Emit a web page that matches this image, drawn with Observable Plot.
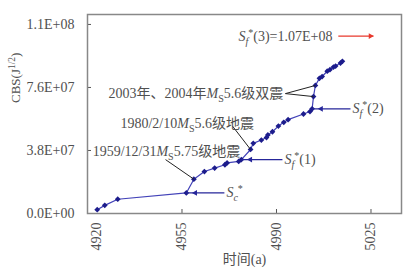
<!DOCTYPE html>
<html><head><meta charset="utf-8">
<script src="https://cdn.jsdelivr.net/npm/d3@7"></script>
<script src="https://cdn.jsdelivr.net/npm/@observablehq/plot@0.6"></script>
<style>
body{margin:0;background:#fff}
svg, svg text{font-family:"Liberation Serif","Noto Sans CJK SC",serif !important;}
</style>
</head><body><div id="chart"></div>
<script>
// ---- data ----
const years = [4923.6, 4926.4, 4931.2, 4956.6, 4959.4, 4963.3, 4967.1, 4970.9, 4971.7, 4976.0, 4977.0, 4980.4, 4981.4, 4984.4, 4986.3, 4986.8, 4988.5, 4990.7, 4992.7, 4994.3, 5000.0, 5002.4, 5003.2, 5003.7, 5004.4, 5005.9, 5006.9, 5008.8, 5009.8, 5011.1, 5011.9, 5013.7, 5014.4];
const cbs = [2.3e6, 4.9e6, 8.6e6, 1.24e7, 2.07e7, 2.53e7, 2.74e7, 2.94e7, 3.05e7, 3.14e7, 3.25e7, 3.86e7, 4.23e7, 4.43e7, 4.58e7, 4.74e7, 4.93e7, 5.27e7, 5.5e7, 5.66e7, 6.0e7, 6.15e7, 6.31e7, 7.05e7, 7.72e7, 8.15e7, 8.26e7, 8.58e7, 8.67e7, 8.83e7, 8.89e7, 9.07e7, 9.18e7];
const xTicks = [4920, 4955, 4990, 5025];
const yTicks = [0, 3.8e7, 7.6e7, 1.14e8];
const yTickLabels = ["0.0E+00", "3.8E+07", "7.6E+07", "1.1E+08"];
const xLabel = "时间(a)";
const yLabel = "CBS(J<sup>1/2</sup>)";
// event notes (leader lines to data points)
const noteLabels = ["1959/12/31<i>M</i><sub>S</sub>5.75级地震", "1980/2/10<i>M</i><sub>S</sub>5.6级地震", "2003年、2004年<i>M</i><sub>S</sub>5.6级双震"];
const noteTargets = [[4], [11], [23, 24]];
// strain thresholds (arrows to data points)
const arrowLabels = ["<i>S</i><isub>c</isub><sup>*</sup>", "<i>S</i><isub>f</isub><sup>*</sup>(1)", "<i>S</i><isub>f</isub><sup>*</sup>(2)"];
const arrowTargets = [3, 10, 22];
const limitLabel = "<i>S</i><isub>f</isub><sup>*</sup>(3)=1.07E+08";
const limitValue = 1.07e8;

// ---- annotation layout (data units) ----
const noteLayout = [
  {tx: 4921.9, ty: 3.74e7, lx: 4948.9, ly: 3.25e7},
  {tx: 4932.2, ty: 5.45e7, lx: 4973.7, ly: 5.27e7},
  {tx: 4927.8, ty: 7.23e7, lx: 4993.3, ly: 7.23e7}
];
const arrowTail = [4970.7, 4992.2, 5017.4];
const limitLayout = {tx: 4975.9, x1: 5012.9, x2: 5025.9};

const plain = s => s.replace(/<[^>]+>/g, "");
const data = years.map((x, i) => ({x, y: cbs[i]}));
const notes = noteLabels.map((label, i) => ({label, ...noteLayout[i]}));
const noteLinks = notes.flatMap((n, i) => noteTargets[i].map(t => ({x1: n.lx, y1: n.ly, x2: years[t], y2: cbs[t]})));
const arrows = arrowLabels.map((label, i) => ({label, tail: arrowTail[i], x: years[arrowTargets[i]], y: cbs[arrowTargets[i]]}));
const limit = [{label: limitLabel, y: limitValue, ...limitLayout}];

const navy = "#26269a", textCol = "#505050", red = "#e8382c";
const font = "Liberation Serif, Noto Sans CJK SC, serif";

const plot = Plot.plot({
  width: 418, height: 277,
  marginLeft: 87, marginRight: 17, marginTop: 14, marginBottom: 64,
  style: {fontFamily: font, fontSize: "14px", color: textCol, background: "#fff"},
  x: {domain: [4920, 5036.3], label: null},
  y: {domain: [0, 1.2e8], label: null},
  marks: [
    Plot.axisY({ticks: yTicks, tickSize: -4, tickFormat: () => "", stroke: "#555", label: null}),
    Plot.axisY({ticks: yTicks, tickSize: 0, tickPadding: 13, tickFormat: d => yTickLabels[yTicks.indexOf(d)], fill: textCol, fontFamily: font, label: null}),
    Plot.axisX({ticks: xTicks, tickSize: -4, tickFormat: () => "", stroke: "#555", label: null}),
    Plot.axisX({ticks: xTicks.slice(0, 1), tickSize: 0, tickRotate: -90, tickPadding: 9, dx: 9, fill: textCol, fontFamily: font, tickFormat: d => String(d), label: null}),
    Plot.axisX({ticks: xTicks.slice(1), tickSize: 0, tickRotate: -90, tickPadding: 9, fill: textCol, fontFamily: font, tickFormat: d => String(d), label: null}),
    Plot.frame({stroke: "#888", strokeWidth: 1.5}),
    Plot.line(data, {x: "x", y: "y", stroke: "#4242b8", strokeWidth: 1.2}),
    Plot.dot(data, {x: "x", y: "y", symbol: "diamond2", r: 2.6, fill: "#1c1c8c"}),
    // leader lines + notes
    Plot.link(noteLinks, {x1: "x1", y1: "y1", x2: "x2", y2: "y2", stroke: "#222", strokeWidth: 1}),
    Plot.text(notes, {x: "tx", y: "ty", text: d => plain(d.label), textAnchor: "start", fill: textCol, fontSize: 14, fontFamily: font}),
    // threshold arrows
    Plot.link(arrows, {x1: "tail", y1: "y", x2: "x", y2: "y", stroke: navy, strokeWidth: 1.2}),
    Plot.dot(arrows, {x: "x", y: "y", symbol: "triangle2", r: 2.8, rotate: -90, dx: 9, fill: navy}),
    Plot.text(arrows, {x: "tail", y: "y", text: d => plain(d.label), textAnchor: "start", dx: 2, fill: textCol, fontSize: 14, fontFamily: font}),
    // limit arrow
    Plot.text(limit, {x: "tx", y: "y", text: d => plain(d.label), textAnchor: "start", fill: textCol, fontSize: 14, fontFamily: font}),
    Plot.link(limit, {x1: "x1", y1: "y", x2: "x2", y2: "y", stroke: red, strokeWidth: 1.2}),
    Plot.dot(limit, {x: "x2", y: "y", symbol: "triangle2", r: 2.8, rotate: 90, dx: -3, fill: red}),
    // axis titles
    Plot.text([xLabel], {frameAnchor: "bottom", dy: 50, text: d => d, fill: textCol, fontSize: 14, fontFamily: font}),
    Plot.text([yLabel], {frameAnchor: "left", dx: -72, dy: -11, rotate: -90, text: d => plain(d), fill: textCol, fontSize: 13, fontFamily: font})
  ]
});
document.getElementById("chart").appendChild(plot);

// ---- rich text (italic, sub/superscripts) ----
const markups = [yLabel, ...noteLabels, ...arrowLabels, limitLabel];
const byPlain = new Map(markups.map(m => [plain(m), m]));
const NS = "http://www.w3.org/2000/svg";
plot.querySelectorAll("text").forEach(t => {
  const m = byPlain.get(t.textContent);
  if (!m) return;
  const re = /<(i|sub|isub|sup)>(.*?)<\/\1>|([^<]+)/g;
  const segs = [];
  let r;
  while ((r = re.exec(m))) segs.push(r[3] ? {t: r[3]} : {t: r[2], tag: r[1]});
  while (t.firstChild) t.removeChild(t.firstChild);
  let shift = 0;
  for (const s of segs) {
    const sp = document.createElementNS(NS, "tspan");
    sp.textContent = s.t;
    const target = (s.tag === "sub" || s.tag === "isub") ? 4 : s.tag === "sup" ? -5 : 0;
    if (target !== shift) sp.setAttribute("dy", target - shift);
    shift = target;
    if (s.tag === "i" || s.tag === "isub") sp.setAttribute("font-style", "italic");
    if (s.tag && s.tag !== "i") sp.setAttribute("font-size", "0.72em");
    t.appendChild(sp);
  }
});
</script>
</body></html>
